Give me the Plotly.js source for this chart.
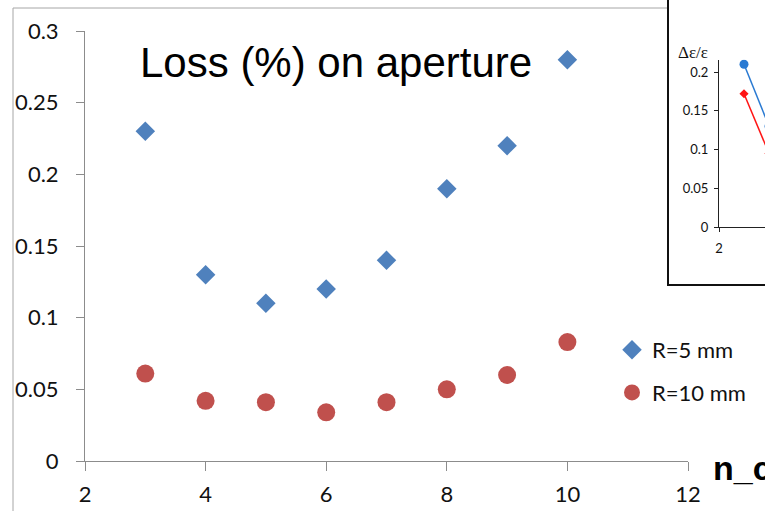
<!DOCTYPE html>
<html>
<head>
<meta charset="utf-8">
<script src="https://cdn.plot.ly/plotly-3.0.1.min.js"></script>
<style>
  html, body { margin: 0; padding: 0; background: #ffffff; }
  #chart { width: 765px; height: 511px; }
</style>
</head>
<body>
<div id="chart"></div>
<script>
// Number of cells on the x axis
const nCells = [3, 4, 5, 6, 7, 8, 9, 10];
// Loss (%) on aperture for the two aperture radii
const lossR5 = [0.23, 0.13, 0.11, 0.12, 0.14, 0.19, 0.22, 0.28];
const lossR10 = [0.061, 0.042, 0.041, 0.034, 0.041, 0.05, 0.06, 0.083];
const seriesNames = ['R=5 mm', 'R=10 mm'];

// Inset: emittance growth for the first cells
const insetCells = [3, 4];
const insetBlue = [0.21, 0.13];
const insetRed = [0.172, 0.095];

const W = 765, H = 511;
// pixel -> paper helpers (margins are zero, so paper spans the whole page)
const px = v => v / W;
const py = v => 1 - v / H;

const tickFont = { family: 'Lato, Calibri, sans-serif', size: 22, color: '#111111' };
const insetFont = { family: 'Lato, Calibri, sans-serif', size: 13, color: '#111111' };
const axisGray = '#8c8c8c';

const traces = [
  {
    x: nCells, y: lossR5, name: seriesNames[0], type: 'scatter', mode: 'markers',
    marker: { symbol: 'diamond', size: 15, color: '#4F81BD' },
    xaxis: 'x', yaxis: 'y', legendgroup: 'a', cliponaxis: false
  },
  {
    x: nCells, y: lossR10, name: seriesNames[1], type: 'scatter', mode: 'markers',
    marker: { symbol: 'circle', size: 18, color: '#C0504D' },
    xaxis: 'x', yaxis: 'y', legendgroup: 'b', cliponaxis: false
  },
  {
    x: insetCells, y: insetBlue, type: 'scatter', mode: 'lines+markers', showlegend: false,
    line: { color: '#2a7ad2', width: 1.5 },
    marker: { symbol: 'circle', size: 9, color: '#2a7ad2' },
    xaxis: 'x2', yaxis: 'y2', cliponaxis: true
  },
  {
    x: insetCells, y: insetRed, type: 'scatter', mode: 'lines+markers', showlegend: false,
    line: { color: '#ff1414', width: 1.5 },
    marker: { symbol: 'diamond', size: 7, color: '#ff1414' },
    xaxis: 'x2', yaxis: 'y2', cliponaxis: true
  }
];

// inset vertical scale: 0 sits at y=227 px, 775 px per unit
const insetTop = 0.216;

const layout = {
  width: W, height: H,
  margin: { l: 0, r: 0, t: 0, b: 0, pad: 0 },
  paper_bgcolor: '#ffffff',
  plot_bgcolor: 'rgba(0,0,0,0)',
  showlegend: true,
  legend: {
    x: px(612), y: py(329), xanchor: 'left', yanchor: 'top',
    bgcolor: 'rgba(0,0,0,0)', borderwidth: 0,
    font: tickFont, traceorder: 'grouped', tracegroupgap: 11
  },
  xaxis: {
    domain: [px(85), px(688)], range: [2, 12], dtick: 2, tick0: 2,
    showgrid: false, zeroline: false, showline: true, linecolor: axisGray, linewidth: 1,
    ticks: 'outside', ticklen: 9, tickcolor: axisGray, tickfont: tickFont,
    ticklabelstandoff: 5, anchor: 'y', fixedrange: true
  },
  yaxis: {
    domain: [py(461), py(31)], range: [0, 0.3], dtick: 0.05, tick0: 0,
    showgrid: false, zeroline: false, showline: true, linecolor: axisGray, linewidth: 1,
    ticks: 'outside', ticklen: 8, tickcolor: axisGray, tickfont: tickFont,
    ticklabelstandoff: 13, anchor: 'x', fixedrange: true
  },
  xaxis2: {
    domain: [px(719), 1], range: [2, 3.84], dtick: 2, tick0: 2,
    showgrid: false, zeroline: false, showline: true, linecolor: '#222222', linewidth: 1,
    ticks: 'outside', ticklen: 4, tickcolor: '#222222', tickfont: insetFont,
    ticklabelstandoff: 5, anchor: 'y2', fixedrange: true
  },
  yaxis2: {
    domain: [py(227), py(227 - insetTop * 775)], range: [0, insetTop], dtick: 0.05, tick0: 0,
    showgrid: false, zeroline: false, showline: true, linecolor: '#222222', linewidth: 1,
    ticks: 'outside', ticklen: 4, tickcolor: '#222222', tickfont: insetFont,
    ticklabelstandoff: 3, anchor: 'x2', fixedrange: true
  },
  shapes: [
    // outer frame of the slide panel
    { type: 'line', xref: 'paper', yref: 'paper', x0: px(13), x1: px(13), y0: py(8), y1: py(515),
      line: { color: '#a6a6a6', width: 1 }, layer: 'below' },
    { type: 'line', xref: 'paper', yref: 'paper', x0: px(13), x1: px(668), y0: py(8), y1: py(8),
      line: { color: '#a6a6a6', width: 1 }, layer: 'below' },
    // inset box
    { type: 'rect', xref: 'paper', yref: 'paper', x0: px(668), x1: px(780), y0: py(285), y1: py(-10),
      line: { color: '#111111', width: 2 }, fillcolor: '#ffffff', layer: 'below' }
  ],
  annotations: [
    { text: 'Loss (%) on aperture', xref: 'paper', yref: 'paper', x: px(138), y: py(62),
      xanchor: 'left', yanchor: 'middle', showarrow: false,
      font: { family: 'Liberation Sans, Arial, sans-serif', size: 42, color: '#000000' } },
    { text: '<b>n_c</b>', xref: 'paper', yref: 'paper', x: px(711), y: py(468),
      xanchor: 'left', yanchor: 'middle', showarrow: false,
      font: { family: 'Liberation Sans, Arial, sans-serif', size: 34, color: '#000000' } },
    { text: 'Δε/ε', xref: 'paper', yref: 'paper', x: px(676), y: py(53),
      xanchor: 'left', yanchor: 'middle', showarrow: false,
      font: { family: 'Liberation Serif, Times New Roman, serif', size: 17, color: '#111111' } }
  ]
};

Plotly.newPlot('chart', traces, layout, { displayModeBar: false, staticPlot: true });
</script>
</body>
</html>
